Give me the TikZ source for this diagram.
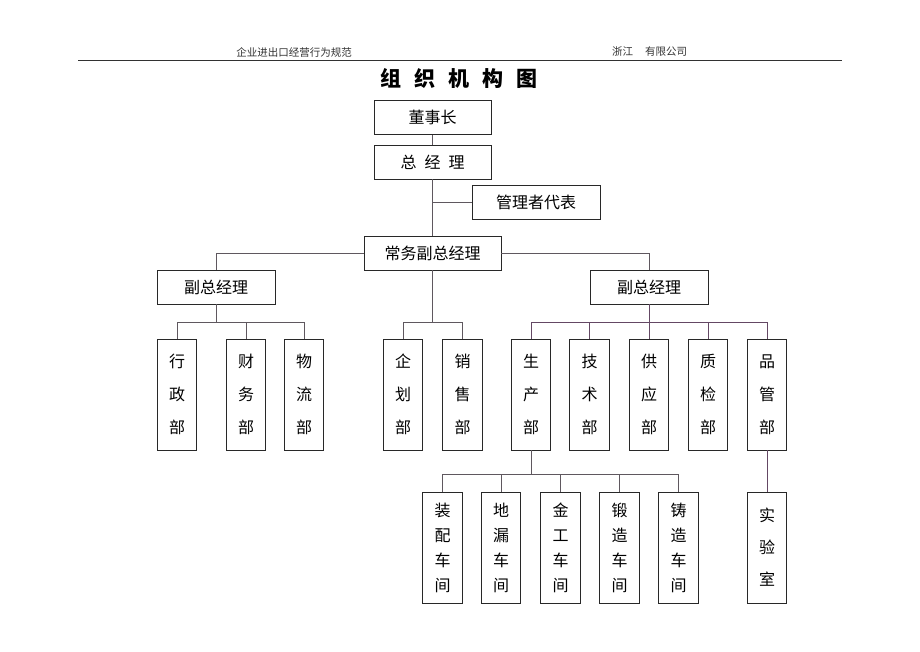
\documentclass[tikz,border=0pt]{standalone}
\usepackage{fontspec}
\setmainfont{Noto Sans CJK SC}
\newfontfamily\cjk{Noto Sans CJK SC}
\definecolor{boxcol}{RGB}{40,40,40}
\definecolor{linecol}{RGB}{95,88,95}
\definecolor{linepur}{RGB}{100,72,100}
\definecolor{headcol}{RGB}{50,50,50}
\tikzset{
  hbox/.style={draw=boxcol, line width=0.9pt, minimum width=117pt, minimum height=34pt, inner sep=0pt, font=\cjk\fontsize{16}{18}\selectfont},
  vbox/.style={draw=boxcol, line width=0.9pt, minimum width=39.5pt, minimum height=111pt, inner sep=0pt, align=center, font=\cjk\fontsize{16}{33}\selectfont, execute at begin node={\rule{0pt}{20pt}}},
  vboxf/.style={vbox, font=\cjk\fontsize{16}{25}\selectfont},
  conn/.style={draw=linecol, line width=0.9pt},
  connp/.style={draw=linepur, line width=0.9pt},
  hdr/.style={inner sep=0pt, text=headcol, font=\cjk\fontsize{10.5}{12}\selectfont}
}
\begin{document}
\begin{tikzpicture}[x=1pt,y=-1pt]
\useasboundingbox[fill=white] (0,0) rectangle (920,651);
% header
\node[hdr] (h1) at (294,52) {企业进出口经营行为规范};
\node[hdr] (h2) at (649.5,52) {浙江\hspace{12pt}有限公司};
\coordinate (rl) at (78,60.5);
\coordinate (rr) at (842,60.5);
\draw[line width=1.6pt, draw=headcol] (rl) -- (rr);
\node[inner sep=0pt, font=\cjk\bfseries\fontsize{21}{24}\selectfont] (title) at (459,78) {组\hspace{13pt}织\hspace{13pt}机\hspace{13pt}构\hspace{13pt}图};
% top chain
\node[hbox] (dsz) at (432.5,117.5) {董事长};
\node[hbox] (zjl) at (432.5,162) {总\hspace{8pt}经\hspace{8pt}理};
\node[hbox, minimum width=128pt] (glz) at (536,202) {管理者代表};
\node[hbox, minimum width=137pt] (cw) at (432.5,253) {常务副总经理};
\node[hbox, minimum width=118pt] (fzL) at (216,287) {副总经理};
\node[hbox, minimum width=118pt] (fzR) at (649,287) {副总经理};
% left group
\node[vbox] (xz) at (177,394.5) {行\\政\\部};
\node[vbox] (cwb) at (246,394.5) {财\\务\\部};
\node[vbox] (wl) at (304,394.5) {物\\流\\部};
% middle group
\node[vbox] (qh) at (403,394.5) {企\\划\\部};
\node[vbox] (xs) at (462.5,394.5) {销\\售\\部};
% right group
\node[vbox] (sc) at (531,394.5) {生\\产\\部};
\node[vbox] (js) at (589.5,394.5) {技\\术\\部};
\node[vbox] (gy) at (649,394.5) {供\\应\\部};
\node[vbox] (zj) at (708,394.5) {质\\检\\部};
\node[vbox] (pg) at (767,394.5) {品\\管\\部};
% bottom
\node[vboxf] (zp) at (442.5,547.5) {装\\配\\车\\间};
\node[vboxf] (dl) at (501,547.5) {地\\漏\\车\\间};
\node[vboxf] (jg) at (560.5,547.5) {金\\工\\车\\间};
\node[vboxf] (dz) at (619.5,547.5) {锻\\造\\车\\间};
\node[vboxf] (zz) at (678.5,547.5) {铸\\造\\车\\间};
\node[vbox, font=\cjk\fontsize{16}{32}\selectfont] (syz) at (767,547.5) {实\\验\\室};
% bus coordinates
\coordinate (bus1) at (0,322);
\coordinate (bus2) at (0,474);
% connectors top
\draw[conn] (dsz.south) -- (zjl.north);
\draw[conn] (zjl.south) -- (cw.north);
\draw[conn] (glz.west) -- (glz.west -| zjl.south);
\draw[conn] (cw.west) -| (fzL.north);
\draw[conn] (cw.east) -| (fzR.north);
% left group
\draw[conn] (fzL.south) -- (fzL.south |- bus1);
\draw[conn] (xz.north) -- (xz.north |- bus1) -- (wl.north |- bus1) -- (wl.north);
\draw[conn] (cwb.north) -- (cwb.north |- bus1);
% middle group
\draw[conn] (cw.south) -- (cw.south |- bus1);
\draw[conn] (qh.north) -- (qh.north |- bus1) -- (xs.north |- bus1) -- (xs.north);
% right group
\draw[connp] (fzR.south) -- (fzR.south |- bus1);
\draw[connp] (sc.north) -- (sc.north |- bus1) -- (pg.north |- bus1) -- (pg.north);
\draw[connp] (js.north) -- (js.north |- bus1);
\draw[connp] (gy.north) -- (gy.north |- bus1);
\draw[connp] (zj.north) -- (zj.north |- bus1);
% bottom group
\draw[conn] (sc.south) -- (sc.south |- bus2);
\draw[conn] (zp.north) -- (zp.north |- bus2) -- (zz.north |- bus2) -- (zz.north);
\draw[conn] (dl.north) -- (dl.north |- bus2);
\draw[conn] (jg.north) -- (jg.north |- bus2);
\draw[conn] (dz.north) -- (dz.north |- bus2);
\draw[connp] (pg.south) -- (syz.north);
\end{tikzpicture}
\end{document}
